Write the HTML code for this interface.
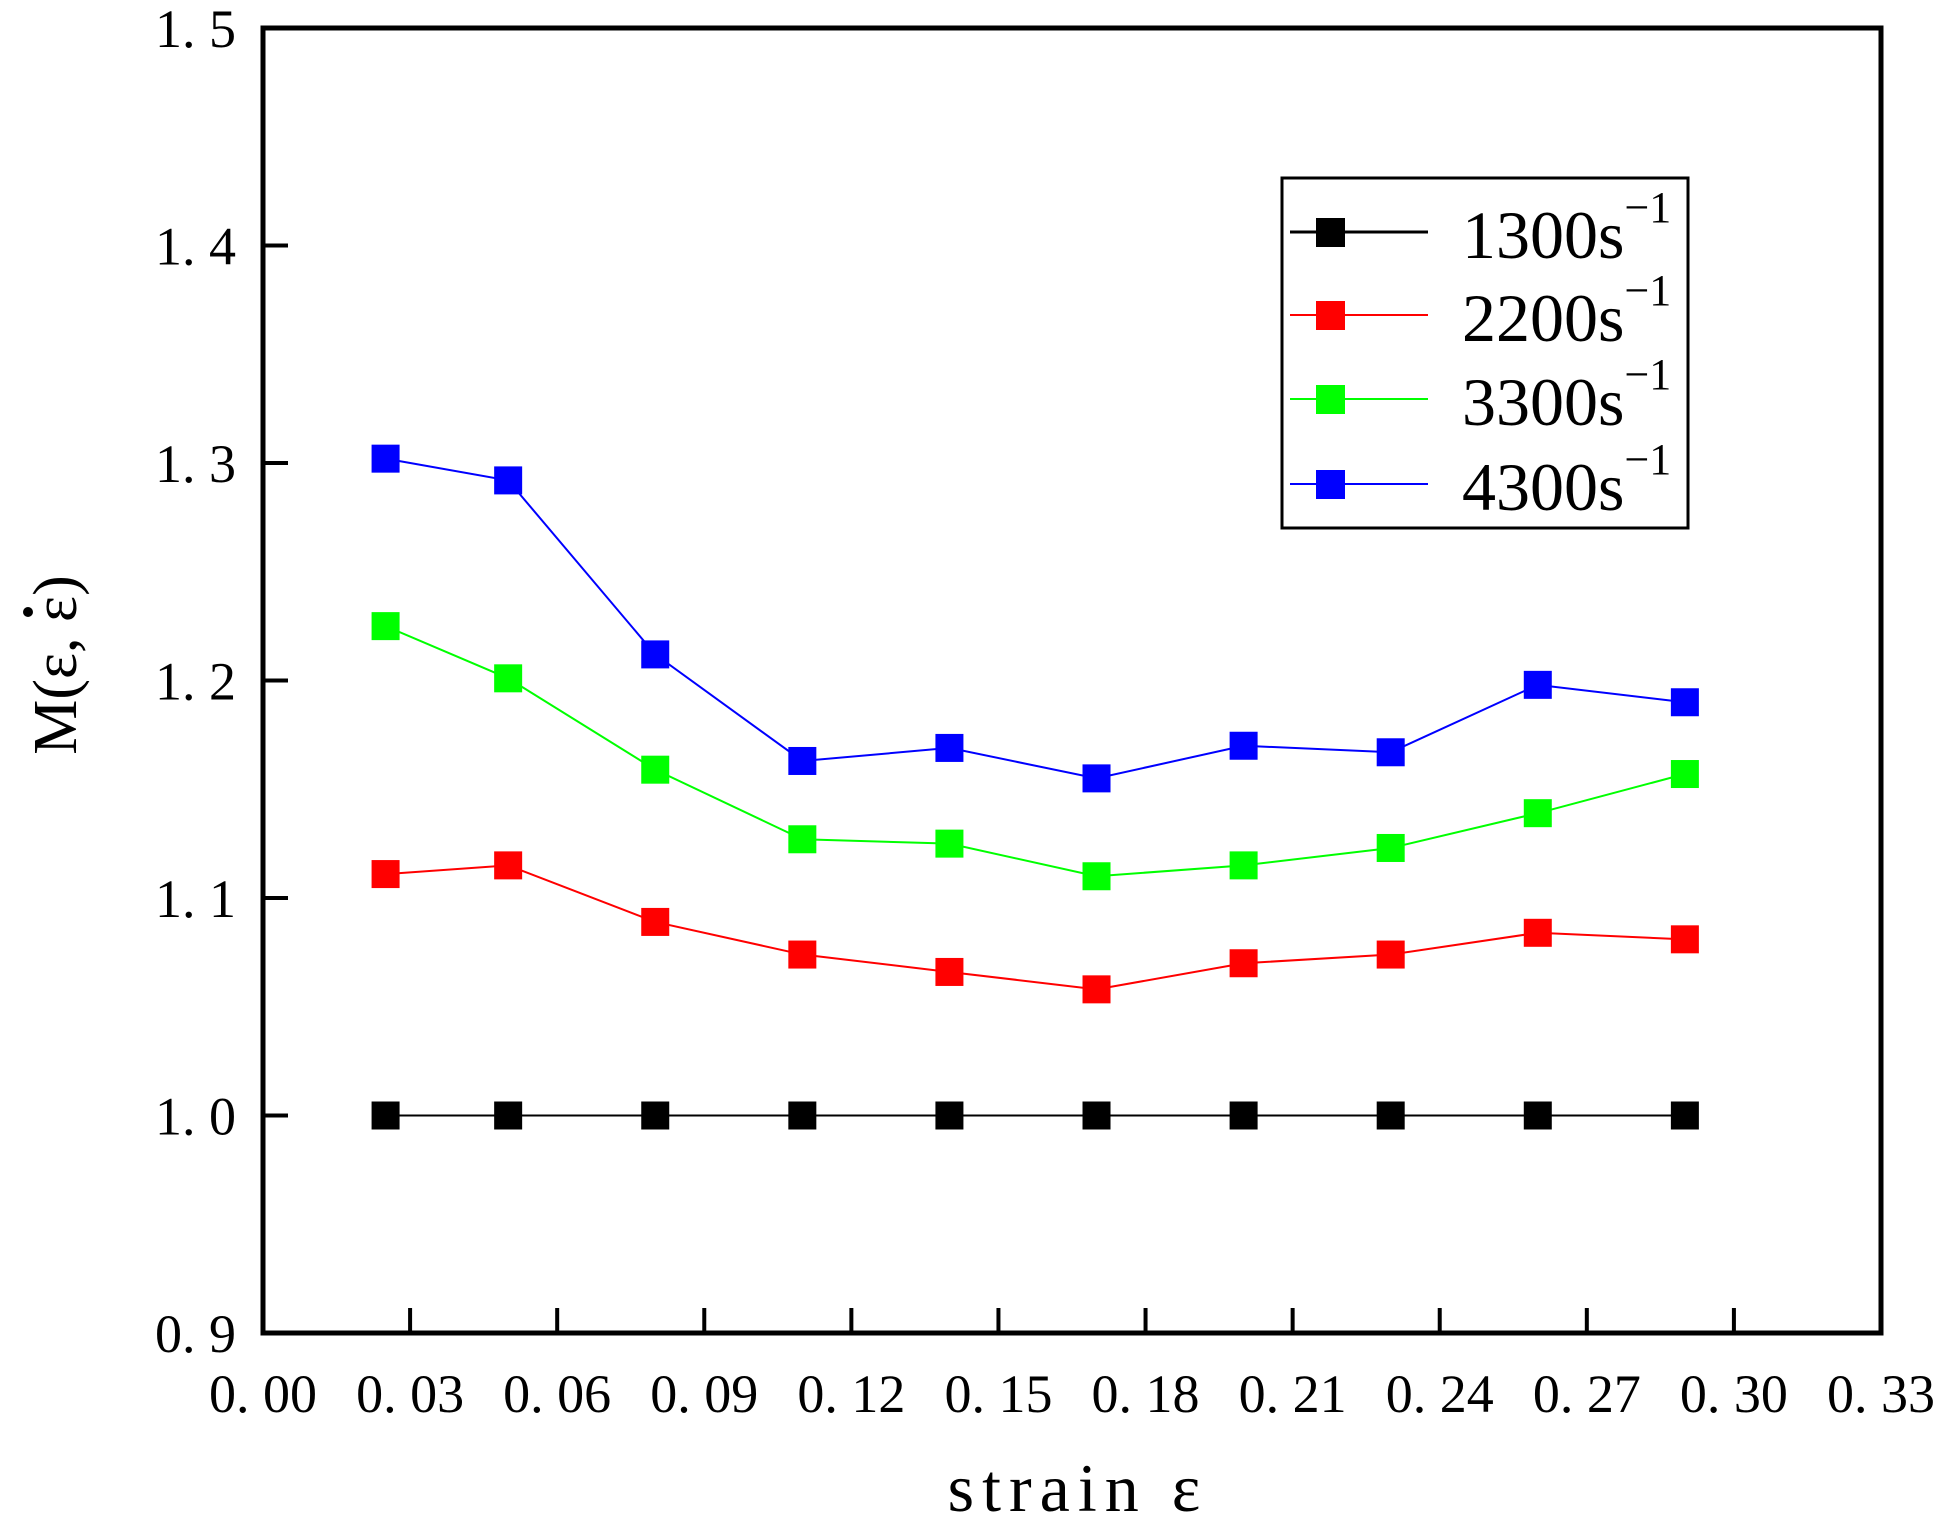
<!DOCTYPE html>
<html><head><meta charset="utf-8"><style>
html,body{margin:0;padding:0;background:#fff;}
svg{display:block;}
text{font-family:"Liberation Serif","Noto Serif CJK SC",serif;fill:#000;}
</style></head><body>
<svg id="s" width="1956" height="1525" viewBox="0 0 1956 1525" xmlns="http://www.w3.org/2000/svg">
<rect x="263" y="28" width="1618" height="1305" fill="none" stroke="#000" stroke-width="5"/>
<g id="ticks"></g>
<g id="series"></g>
<text x="1078" y="1511" font-size="68" text-anchor="middle" letter-spacing="8">strain ε</text>
<g transform="translate(76,665) rotate(-90)">
<text x="0" y="0" font-size="62" text-anchor="middle">M(ε, ε)</text>
<circle cx="53" cy="-48" r="5" fill="#000"/>
</g>
<rect x="1282" y="178" width="406" height="350" fill="#fff" stroke="#000" stroke-width="3"/>
<g id="legend"></g>
</svg>
<script>
var L=263,R=1881,T=28,B=1333;
function X(v){return L+(v/0.33)*(R-L);}
function Y(v){return B-(v-0.9)/0.6*(B-T);}
var ns="http://www.w3.org/2000/svg";
function el(tag,attrs,parent,txt){var e=document.createElementNS(ns,tag);for(var k in attrs)e.setAttribute(k,attrs[k]);if(txt!==undefined)e.textContent=txt;parent.appendChild(e);return e;}
var tk=document.getElementById('ticks');
for(var i=0;i<=11;i++){var v=i*0.03,x=X(v);
 if(i>0&&i<11)el('line',{x1:x,y1:B,x2:x,y2:B-25,stroke:'#000','stroke-width':4},tk);
 el('text',{x:x,y:1412,'font-size':54,'text-anchor':'middle'},tk,v.toFixed(2).replace('.','. '));}
for(var j=0;j<=6;j++){var v=0.9+j*0.1,y=Y(v);
 if(j>0&&j<6)el('line',{x1:L,y1:y,x2:L+25,y2:y,stroke:'#000','stroke-width':4},tk);
 el('text',{x:236,y:y+19,'font-size':54,'text-anchor':'end'},tk,v.toFixed(1).replace('.','. '));}
var xs=[0.025,0.05,0.08,0.11,0.14,0.17,0.2,0.23,0.26,0.29];
var data=[
 ['#000',[1,1,1,1,1,1,1,1,1,1]],
 ['#f00',[1.111,1.115,1.089,1.074,1.066,1.058,1.070,1.074,1.084,1.081]],
 ['#0f0',[1.225,1.201,1.159,1.127,1.125,1.110,1.115,1.123,1.139,1.157]],
 ['#00f',[1.302,1.292,1.212,1.163,1.169,1.155,1.170,1.167,1.198,1.190]]];
var sg=document.getElementById('series');
data.forEach(function(d){
 var pts=xs.map(function(x,i){return X(x)+','+Y(d[1][i]);}).join(' ');
 el('polyline',{points:pts,fill:'none',stroke:d[0],'stroke-width':2},sg);
 xs.forEach(function(x,i){el('rect',{x:X(x)-14,y:Y(d[1][i])-14,width:28,height:28,fill:d[0]},sg);});
});
var lg=document.getElementById('legend');
var names=['1300','2200','3300','4300'],rows=[232,315,399,484];
data.forEach(function(d,i){var y=rows[i];
 el('line',{x1:1290,y1:y,x2:1428,y2:y,stroke:d[0],'stroke-width':d[0]=='#000'?3:2},lg);
 el('rect',{x:1345-29,y:y-14,width:29,height:29,fill:d[0]},lg);
 var t=el('text',{x:1462,y:y+26,'font-size':68},lg,names[i]+'s');
 el('tspan',{dy:-36,'font-size':44},t,'\u22121');
});
</script>
</body></html>
